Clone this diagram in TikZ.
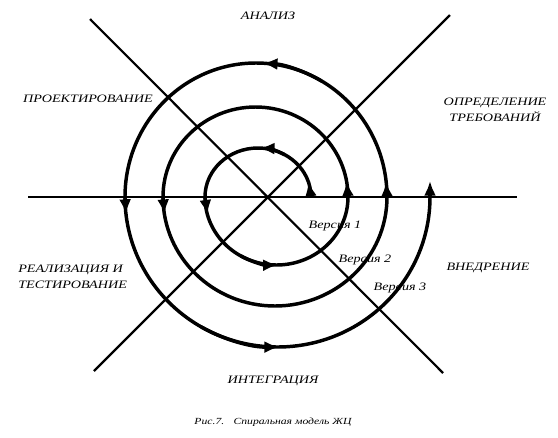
\documentclass[tikz,border=0pt]{standalone}
\usepackage{fontspec}
\newfontfamily\lblfont[FakeStretch=1.25]{Liberation Serif}
\usetikzlibrary{arrows.meta}

\begin{document}
\begin{tikzpicture}[x=0.75pt,y=0.75pt,yscale=-1,xscale=1,
	axis/.style={line width=1.6pt},
	spir/.style={line width=2.6pt},
	seg/.style={spir,-{Latex[length=11pt,width=9pt]}},
	lbl/.style={inner sep=0.75pt,font=\lblfont\itshape\fontsize{8.5}{12}\selectfont},
	captxt/.style={inner sep=0.75pt,font=\lblfont\itshape\fontsize{7}{9}\selectfont}]
	\useasboundingbox (0,0) rectangle (558,437);
	
	% axes
	\coordinate (west) at (28,197);
	\coordinate (east) at (517,197);
	\coordinate (nw) at (90,19);
	\coordinate (se) at (443,373);
	\coordinate (ne) at (450,15);
	\coordinate (sw) at (94,371);
	\draw [axis] (west) -- (east);
	\draw [axis] (nw) -- (se);
	\draw [axis] (ne) -- (sw);
	
	%Curve Lines: the spiral, three turns
	\draw [spir] (311,197) coordinate (s1)
		arc [start angle=0, end angle=-180, x radius=53, y radius=49] coordinate (s2)
		arc [start angle=180, end angle=0, x radius=71.5, y radius=68] coordinate (s3)
		arc [start angle=0, end angle=-180, x radius=92.5, y radius=90] coordinate (s4)
		arc [start angle=180, end angle=0, x radius=112, y radius=109] coordinate (s5)
		arc [start angle=0, end angle=-180, x radius=131, y radius=134] coordinate (s6)
		arc [start angle=180, end angle=0, x radius=152.5, y radius=150] coordinate (s7);
	
	% arrow heads on the spiral
	\coordinate (t1) at (308.4,181.9);
	\coordinate (t2) at (207.4,214.6);
	\coordinate (t3) at (346.6,181.4);
	\coordinate (t4) at (164.4,214.1);
	\coordinate (t5) at (386.2,181.8);
	\coordinate (t6) at (126,214);
	\coordinate (fin) at (430,181);
	\draw [seg] (s1) -- (t1);
	\draw [seg] (s2) -- (t2);
	\draw [seg] (s3) -- (t3);
	\draw [seg] (s4) -- (t4);
	\draw [seg] (s5) -- (t5);
	\draw [seg] (s6) -- (t6);
	\draw [seg] (s7) -- (fin);
	\draw [seg] (284.5,154.6) arc [start angle=-60, end angle=-88, x radius=53, y radius=49];
	\draw [seg] (240.75,255.9) arc [start angle=120, end angle=89, x radius=71.5, y radius=68];
	\draw [seg] (321.5,81) arc [start angle=-60, end angle=-87, x radius=131, y radius=134];
	\draw [seg] (201.25,326.9) arc [start angle=120, end angle=89.4, x radius=152.5, y radius=150];
	
	% Text Node
	\draw (268,16) node [lbl] (analiz) {АНАЛИЗ};
	% Text Node
	\draw (88,99) node [lbl] (proekt) {ПРОЕКТИРОВАНИЕ};
	% Text Node
	\draw (495,110) node [lbl,align=center] (opred) {ОПРЕДЕЛЕНИЕ\\ТРЕБОВАНИЙ};
	% Text Node
	\draw (17,277) node [lbl,anchor=west,align=left] (realiz) {РЕАЛИЗАЦИЯ И\\ТЕСТИРОВАНИЕ};
	% Text Node
	\draw (488,268) node [lbl] (vnedr) {ВНЕДРЕНИЕ};
	% Text Node
	\draw (273,381) node [lbl] (integr) {ИНТЕГРАЦИЯ};
	% Text Node
	\draw (335,226) node [lbl] (ver1) {Версия 1};
	\draw (365,260) node [lbl] (ver2) {Версия 2};
	\draw (400,288) node [lbl] (ver3) {Версия 3};
	% Text Node
	\draw (273,422) node [captxt] (caption) {Рис.7.\quad Спиральная модель ЖЦ};
	
\end{tikzpicture}
\end{document}
